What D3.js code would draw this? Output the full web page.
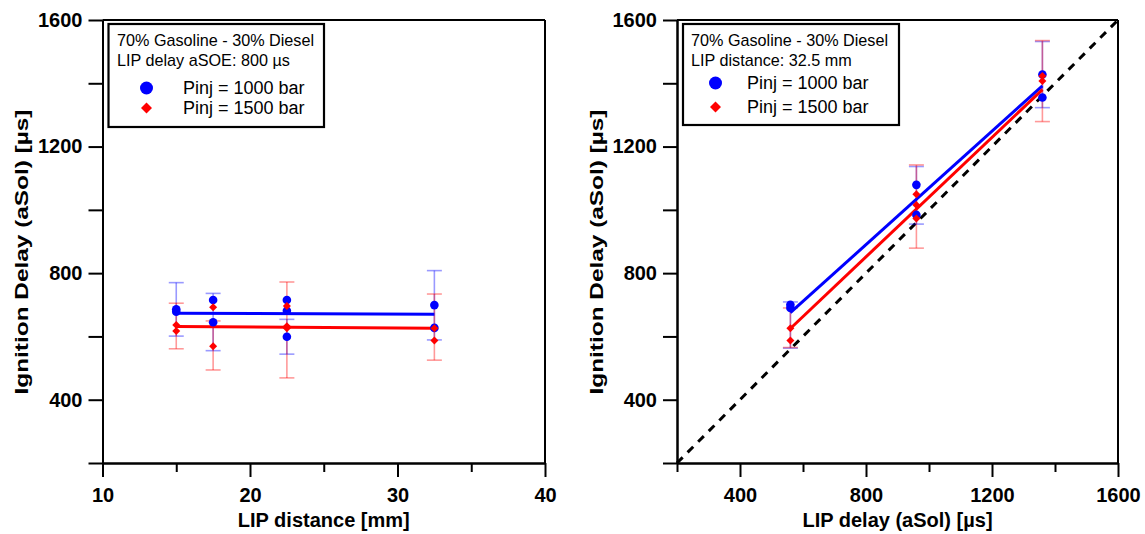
<!DOCTYPE html>
<html><head><meta charset="utf-8">
<script src="https://cdn.jsdelivr.net/npm/d3@7"></script>
<style>
html,body{margin:0;padding:0;background:#fff;}
svg{display:block;font-family:"Liberation Sans",Arial,sans-serif;}
</style></head>
<body><svg id="c" width="1145" height="534"></svg>
<script>
// ---------- data ----------
const yTicks = [400, 800, 1200, 1600];
const yMinor = [200, 600, 1000, 1400];
const leftXTicks = [10, 20, 30, 40];
const leftXMinor = [15, 25, 35];
const rightXTicks = [400, 800, 1200, 1600];
const rightXMinor = [200, 600, 1000, 1400];

// Left panel: LIP distance [mm] vs ignition delay
const leftBluePts = [[15,686],[15,678],[17.5,715],[17.5,645],[22.5,715],[22.5,681],[22.5,599],[32.5,699],[32.5,627]];
const leftRedPts  = [[15,636],[15,617],[17.5,692],[17.5,569],[22.5,696],[22.5,632],[22.5,626],[32.5,626],[32.5,587]];
const leftBlueErr = [[15,601,770],[17.5,555,736],[22.5,544,654],[32.5,589,808]];
const leftRedErr  = [[15,561,705],[17.5,494,649],[22.5,469,772],[32.5,525,734]];
const leftBlueFit = [[15,673],[32.5,670]];
const leftRedFit  = [[15,631],[32.5,626]];

// Right panel: LIP delay (aSol) vs ignition delay
const rightBluePts = [[560,700],[560,690],[960,1079],[960,984],[1360,1428],[1360,1355]];
const rightRedPts  = [[560,626],[560,587],[960,1049],[960,1015],[960,973],[1360,1423],[1360,1407]];
const rightBlueErr = [[560,563,709],[960,955,1137],[1360,1323,1532]];
const rightRedErr  = [[560,565,690],[960,879,1142],[1360,1279,1535]];
const rightBlueFit = [[560,675],[1360,1392]];
const rightRedFit  = [[560,625],[1360,1380]];
const identityLine = [[200,200],[1600,1600]];

const legendLeft  = ["70% Gasoline - 30% Diesel", "LIP delay aSOE: 800 \u00b5s"];
const legendRight = ["70% Gasoline - 30% Diesel", "LIP distance: 32.5 mm"];
const seriesNames = ["Pinj = 1000 bar", "Pinj = 1500 bar"];

// ---------- drawing ----------
const svg = d3.select("#c");
const BLUE = "#0000ff", RED = "#ff0000";
const plotTop = 20, plotBottom = 463;

function panel(o) {
  const x = d3.scaleLinear().domain(o.xDomain).range([o.x0, o.x1]);
  const y = d3.scaleLinear().domain([200, 1600]).range([plotBottom, plotTop]);
  const g = svg.append("g");

  g.append("line").attr("x1", o.x0).attr("x2", o.x1).attr("y1", plotTop).attr("y2", plotTop)
    .attr("stroke", "#000").attr("stroke-width", 2);
  g.append("line").attr("x1", o.x1).attr("x2", o.x1).attr("y1", plotTop).attr("y2", plotBottom)
    .attr("stroke", "#000").attr("stroke-width", 2);

  const styleAxis = sel => {
    sel.select(".domain").attr("stroke", "#000").attr("stroke-width", 2);
    sel.selectAll(".tick line").attr("stroke", "#000").attr("stroke-width", 2);
    sel.selectAll("text").attr("fill", "#000").attr("font-size", 20).attr("font-weight", "bold")
      .attr("font-family", "Liberation Sans, Arial, sans-serif");
  };
  g.append("g").attr("transform", `translate(0,${plotBottom})`)
    .call(d3.axisBottom(x).tickValues(o.xMinor).tickSize(9).tickFormat("").tickSizeOuter(0))
    .call(styleAxis);
  g.append("g").attr("transform", `translate(0,${plotBottom})`)
    .call(d3.axisBottom(x).tickValues(o.xTicks).tickSize(14).tickPadding(11).tickFormat(d3.format("d")).tickSizeOuter(0))
    .call(styleAxis);
  g.append("g").attr("transform", `translate(${o.x0},0)`)
    .call(d3.axisLeft(y).tickValues(yMinor).tickSize(14).tickFormat("").tickSizeOuter(0))
    .call(styleAxis);
  g.append("g").attr("transform", `translate(${o.x0},0)`)
    .call(d3.axisLeft(y).tickValues(yTicks).tickSize(14).tickPadding(6).tickFormat(d3.format("d")).tickSizeOuter(0))
    .call(styleAxis);

  g.append("text").attr("x", (o.x0 + o.x1) / 2).attr("y", 527).attr("text-anchor", "middle")
    .attr("font-size", 20).attr("font-weight", "bold").text(o.xTitle);
  g.append("text").attr("transform", `translate(${o.yTitleX},252) rotate(-90)`)
    .attr("text-anchor", "middle").attr("font-size", 19).attr("font-weight", "bold")
    .attr("textLength", 285).attr("lengthAdjust", "spacingAndGlyphs")
    .text("Ignition Delay (aSol) [\u00b5s]");

  const clip = g.append("g");
  if (o.identity) {
    clip.append("path").datum(o.identity)
      .attr("d", d3.line().x(d => x(d[0])).y(d => y(d[1])))
      .attr("stroke", "#000").attr("stroke-width", 3).attr("stroke-dasharray", "8,7").attr("fill", "none");
  }

  const errs = (data, col) => {
    const eg = clip.append("g").attr("stroke", col).attr("stroke-opacity", 0.4).attr("stroke-width", 1.6);
    data.forEach(d => {
      const cx = x(d[0]);
      eg.append("line").attr("x1", cx).attr("x2", cx).attr("y1", y(d[1])).attr("y2", y(d[2]));
      eg.append("line").attr("x1", cx - 7.5).attr("x2", cx + 7.5).attr("y1", y(d[1])).attr("y2", y(d[1]));
      eg.append("line").attr("x1", cx - 7.5).attr("x2", cx + 7.5).attr("y1", y(d[2])).attr("y2", y(d[2]));
    });
  };
  errs(o.blueErr, BLUE);
  errs(o.redErr, RED);

  const ln = d3.line().x(d => x(d[0])).y(d => y(d[1]));
  clip.append("path").datum(o.blueFit).attr("d", ln).attr("stroke", BLUE).attr("stroke-width", 3).attr("fill", "none");
  clip.append("path").datum(o.redFit).attr("d", ln).attr("stroke", RED).attr("stroke-width", 3).attr("fill", "none");

  clip.selectAll(null).data(o.bluePts).enter().append("circle")
    .attr("cx", d => x(d[0])).attr("cy", d => y(d[1])).attr("r", 4.3).attr("fill", BLUE);
  const dia = d3.symbol().type(d3.symbolSquare).size(32);
  clip.selectAll(null).data(o.redPts).enter().append("path")
    .attr("d", dia).attr("fill", RED)
    .attr("transform", d => `translate(${x(d[0])},${y(d[1])}) rotate(45)`);

  const L = o.legend;
  g.append("rect").attr("x", L.x).attr("y", L.y).attr("width", L.w).attr("height", L.h)
    .attr("fill", "#fff").attr("stroke", "#000").attr("stroke-width", 2.2);
  L.lines.forEach((t, i) => {
    g.append("text").attr("x", L.tx).attr("y", L.y + 22 + i * 19.5).attr("font-size", 16.2).text(t);
  });
  g.append("circle").attr("cx", L.mx).attr("cy", L.y + L.r1).attr("r", 6.5).attr("fill", BLUE);
  g.append("path").attr("d", d3.symbol().type(d3.symbolSquare).size(60)).attr("fill", RED)
    .attr("transform", `translate(${L.mx},${L.y + L.r2}) rotate(45)`);
  g.append("text").attr("x", L.sx).attr("y", L.y + L.r1 + 5.5).attr("font-size", 18).text(seriesNames[0]);
  g.append("text").attr("x", L.sx).attr("y", L.y + L.r2 + 5.5).attr("font-size", 18).text(seriesNames[1]);
}

panel({
  x0: 102.5, x1: 545, xDomain: [10, 40], xTicks: leftXTicks, xMinor: leftXMinor,
  xTitle: "LIP distance [mm]", yTitleX: 28,
  bluePts: leftBluePts, redPts: leftRedPts, blueErr: leftBlueErr, redErr: leftRedErr,
  blueFit: leftBlueFit, redFit: leftRedFit,
  legend: {x: 108.5, y: 24, w: 215.5, h: 103, tx: 117, lines: legendLeft, mx: 146.5, r1: 64, r2: 84, sx: 183}
});
panel({
  x0: 677, x1: 1118, xDomain: [200, 1600], xTicks: rightXTicks, xMinor: rightXMinor,
  xTitle: "LIP delay (aSol) [\u00b5s]", yTitleX: 603, identity: identityLine,
  bluePts: rightBluePts, redPts: rightRedPts, blueErr: rightBlueErr, redErr: rightRedErr,
  blueFit: rightBlueFit, redFit: rightRedFit,
  legend: {x: 683, y: 24, w: 216, h: 101, tx: 691, lines: legendRight, mx: 715.5, r1: 59, r2: 83, sx: 747}
});
</script></body></html>
